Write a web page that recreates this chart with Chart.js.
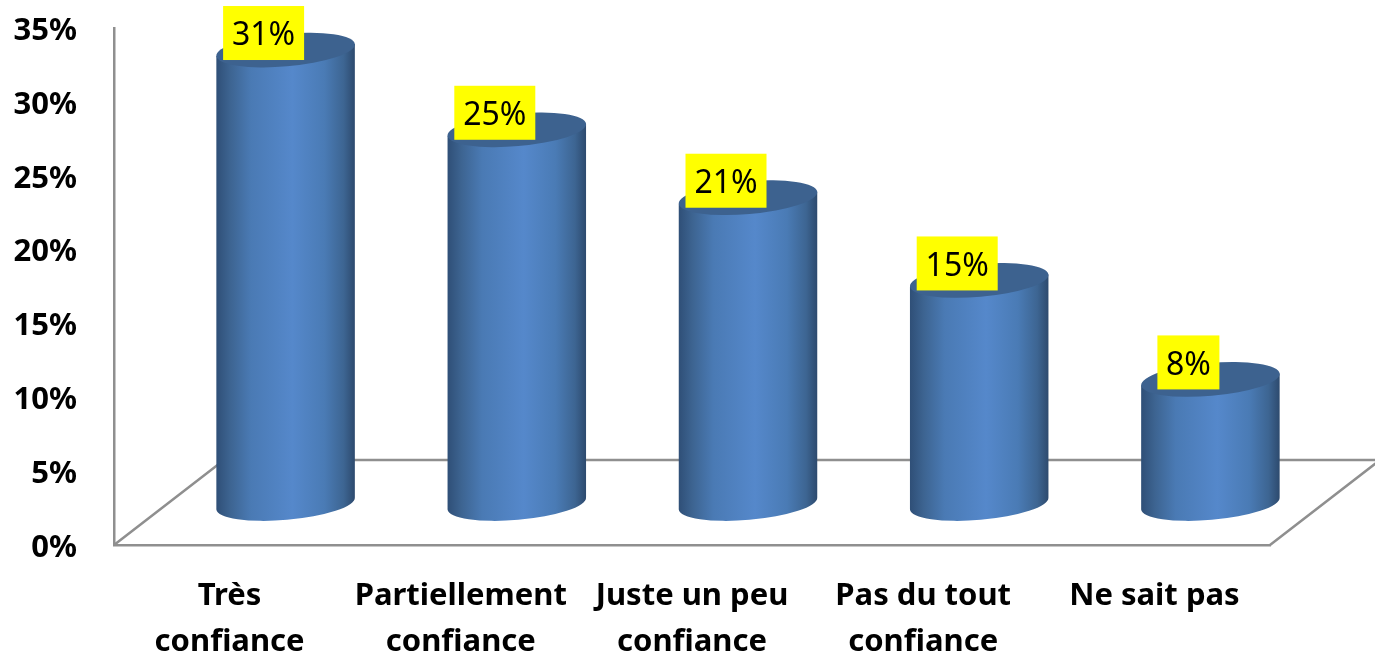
<!DOCTYPE html>
<html>
<head>
<meta charset="utf-8">
<style>
    body { margin: 0; background: #fff; }
    canvas { display: block; }
</style>
<script src="https://cdn.jsdelivr.net/npm/chart.js@4/dist/chart.umd.min.js"></script>
</head>
<body>
<canvas id="confiance" width="1375" height="655"></canvas>
<script>
var categories = [["Très", "confiance"], ["Partiellement", "confiance"], ["Juste un peu", "confiance"], ["Pas du tout", "confiance"], ["Ne sait pas"]];
var pourcentages = [30.7, 25.3, 20.7, 15.1, 8.4];

// depth of the fake 3D floor, in pixels
var depth_x = 110;
var depth_y = 85;
var cyl_dx = 56;
var cyl_dy = 41.5;
var ell_tilt = 4.9 * Math.PI / 180;
var ell_b = 16.4;

var floor_plugin = {
    id: "floor",
    beforeDatasetsDraw: function(chart) {
        var ctx = chart.ctx;
        var a = chart.chartArea;
        ctx.save();
        ctx.strokeStyle = "#8f8f8f";
        ctx.lineWidth = 2.5;
        ctx.beginPath();
        ctx.moveTo(a.left, a.bottom);
        ctx.lineTo(a.left + depth_x, a.bottom - depth_y);
        ctx.lineTo(a.right + depth_x, a.bottom - depth_y);
        ctx.lineTo(a.right, a.bottom);
        ctx.stroke();
        ctx.restore();
    }
};

var cylinder_plugin = {
    id: "cylinder",
    afterDatasetsDraw: function(chart) {
        var ctx = chart.ctx;
        var bars = chart.getDatasetMeta(0).data;
        for (var i = 0; i < bars.length; i++) {
            var cx = bars[i].x + cyl_dx;
            var r = bars[i].width / 2;
            var top_y = bars[i].y - cyl_dy;
            var bot_y = bars[i].base - cyl_dy;
            var ex = r * Math.cos(ell_tilt);
            var ey = r * Math.sin(ell_tilt);

            var grad = ctx.createLinearGradient(cx - ex, 0, cx + ex, 0);
            grad.addColorStop(0, "#2f4f77");
            grad.addColorStop(0.1, "#3d6491");
            grad.addColorStop(0.25, "#4a7ab4");
            grad.addColorStop(0.55, "#5588cb");
            grad.addColorStop(0.78, "#4a7bb5");
            grad.addColorStop(0.92, "#3d6592");
            grad.addColorStop(1, "#2d4a6e");

            ctx.save();
            ctx.fillStyle = grad;
            ctx.beginPath();
            ctx.moveTo(cx - ex, top_y + ey);
            ctx.lineTo(cx - ex, bot_y + ey);
            ctx.ellipse(cx, bot_y, r, ell_b, -ell_tilt, Math.PI, 0, true);
            ctx.lineTo(cx + ex, top_y - ey);
            ctx.closePath();
            ctx.fill();

            ctx.fillStyle = "#3d628f";
            ctx.beginPath();
            ctx.ellipse(cx, top_y, r, ell_b, -ell_tilt, 0, 2 * Math.PI);
            ctx.fill();

            // yellow value label
            var txt = Math.round(pourcentages[i]) + "%";
            ctx.font = "32px 'Noto Sans'";
            var w = txt.length > 2 ? 81 : 62;
            var lx = cx - 22;
            var ly = top_y - 17;
            ctx.fillStyle = "#ffff00";
            ctx.fillRect(lx - w / 2, ly - 27, w, 54);
            ctx.fillStyle = "#000";
            ctx.textAlign = "center";
            ctx.textBaseline = "middle";
            ctx.fillText(txt, lx, ly + 3);
            ctx.restore();
        }
    }
};

var ctx = document.getElementById("confiance").getContext("2d");
var myChart = new Chart(ctx, {
    type: "bar",
    data: {
        labels: categories,
        datasets: [{
            data: pourcentages,
            backgroundColor: "rgba(0, 0, 0, 0)",
            barThickness: 139
        }]
    },
    options: {
        responsive: false,
        animation: false,
        layout: { padding: { top: 28, right: 105, left: 0, bottom: 0 } },
        plugins: { legend: { display: false }, tooltip: { enabled: false } },
        scales: {
            x: {
                grid: { display: false },
                border: { color: "#8f8f8f", width: 2.5 },
                ticks: {
                    color: "#000",
                    padding: 20,
                    maxRotation: 0,
                    autoSkip: false,
                    font: { family: "'Noto Sans'", size: 31, weight: "bold", lineHeight: 1.48 }
                },
                afterFit: function(scale) { scale.height = 110; scale.paddingLeft = 0; scale.paddingRight = 0; }
            },
            y: {
                min: 0,
                max: 35,
                grid: { display: false },
                border: { color: "#8f8f8f", width: 2.5 },
                ticks: {
                    stepSize: 5,
                    color: "#000",
                    padding: 29,
                    labelOffset: 3,
                    callback: function(v) { return v + "%"; },
                    font: { family: "'Noto Sans'", size: 31, weight: "bold" }
                },
                afterFit: function(scale) { scale.width = 114; scale.paddingTop = 0; scale.paddingBottom = 0; }
            }
        }
    },
    plugins: [floor_plugin, cylinder_plugin]
});
</script>
</body>
</html>
